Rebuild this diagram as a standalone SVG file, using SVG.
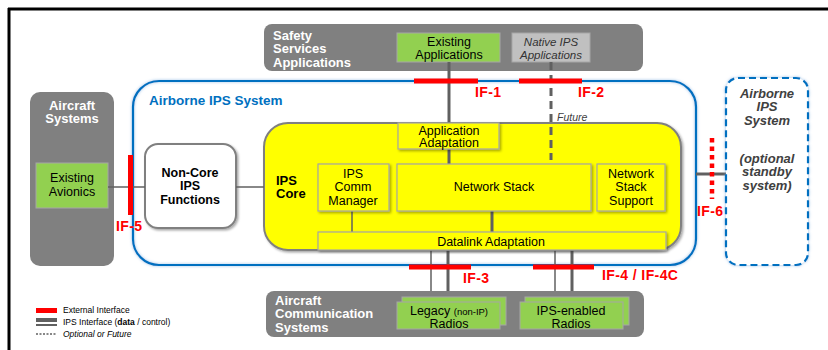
<svg xmlns="http://www.w3.org/2000/svg" width="828" height="350" viewBox="0 0 828 350">
<defs>
<filter id="sh" x="-10%" y="-10%" width="130%" height="130%">
<feDropShadow dx="1.5" dy="1.5" stdDeviation="1" flood-color="#000" flood-opacity="0.35"/>
</filter>
<filter id="glow" x="-5%" y="-5%" width="110%" height="110%">
<feDropShadow dx="0" dy="0" stdDeviation="1.5" flood-color="#6fa8dc" flood-opacity="0.7"/>
</filter>
</defs>
<style>
text{font-family:"Liberation Sans",Arial,sans-serif;}
.gbox{fill:#808080;}
.wt{fill:#fff;font-weight:bold;font-size:13px;}
.green{fill:#92d050;stroke:#a6a6a6;stroke-width:1;}
.yel{fill:#ffff00;stroke:#a6a6a6;stroke-width:1.2;}
.bk{fill:#000;font-size:12.5px;text-anchor:middle;}
.rl{fill:#ff0000;font-weight:bold;font-size:14px;letter-spacing:0.4px;}
.ln{stroke:#606060;fill:none;}
.ext{stroke:#ff0000;stroke-width:5;}
</style>
<rect width="828" height="350" fill="#fff"/>
<line x1="8" y1="9" x2="828" y2="9" stroke="#000" stroke-width="3"/>
<line x1="9" y1="8" x2="9" y2="350" stroke="#000" stroke-width="3"/>

<g id="safety-services">
<rect class="gbox" x="264" y="24" width="379" height="47" rx="8"/>
<text class="wt" x="273" y="39.5">Safety</text>
<text class="wt" x="273" y="53">Services</text>
<text class="wt" x="273" y="66.5">Applications</text>
</g>
<g id="existing-applications">
<rect class="green" x="397" y="33" width="103" height="29"/>
<text class="bk" x="449" y="46">Existing</text>
<text class="bk" x="449" y="59">Applications</text>
</g>
<g id="native-ips">
<rect x="512" y="33" width="78" height="29" fill="#c0c0c0" stroke="#a6a6a6"/>
<text x="551" y="46" font-size="11.5" font-style="italic" fill="#333" text-anchor="middle">Native IPS</text>
<text x="551" y="59" font-size="11.5" font-style="italic" fill="#333" text-anchor="middle">Applications</text>
</g>

<g id="aircraft-systems">
<rect class="gbox" x="30" y="92" width="84" height="174" rx="10"/>
<text class="wt" x="72" y="109.5" text-anchor="middle">Aircraft</text>
<text class="wt" x="72" y="123" text-anchor="middle">Systems</text>
</g>
<g id="existing-avionics">
<rect class="green" x="36" y="163" width="72" height="45"/>
<text class="bk" x="72" y="182">Existing</text>
<text class="bk" x="72" y="196">Avionics</text>
</g>

<g id="airborne-ips-system">
<rect x="133" y="81" width="563" height="184" rx="26" fill="none" stroke="#0070c0" stroke-width="2.2" filter="url(#glow)"/>
<text x="149" y="105" font-size="13.5" font-weight="bold" fill="#0070c0">Airborne IPS System</text>
</g>

<g id="non-core">
<rect x="145" y="144" width="91" height="84" rx="13" fill="#fff" stroke="#808080" stroke-width="2" filter="url(#sh)"/>
<text class="bk" x="190" y="176.5" font-weight="bold" font-size="13">Non-Core</text>
<text class="bk" x="190" y="190" font-weight="bold" font-size="13">IPS</text>
<text class="bk" x="190" y="203.5" font-weight="bold" font-size="13">Functions</text>
</g>

<g id="ips-core">
<rect x="264" y="123" width="417" height="127" rx="24" fill="#ffff00" stroke="#808080" stroke-width="2" filter="url(#sh)"/>
<text x="276" y="184.5" font-size="13" font-weight="bold">IPS</text>
<text x="276" y="198" font-size="13" font-weight="bold">Core</text>
</g>

<g id="connectors">
<line class="ln" x1="449" y1="62" x2="449" y2="124" stroke-width="3"/>
<line class="ln" x1="551" y1="62" x2="551" y2="160" stroke-width="3" stroke-dasharray="8,5"/>
<line class="ln" x1="449" y1="149" x2="449" y2="164" stroke-width="3"/>
<line class="ln" x1="352" y1="211" x2="352" y2="232" stroke-width="1.5"/>
<line class="ln" x1="492" y1="211" x2="492" y2="232" stroke-width="3"/>
<line class="ln" x1="108" y1="187" x2="145" y2="187" stroke-width="1.5"/>
<line class="ln" x1="236" y1="187" x2="264" y2="187" stroke-width="1.5"/>
<line class="ln" x1="431" y1="250" x2="431" y2="302" stroke-width="1.5"/>
<line class="ln" x1="448" y1="250" x2="448" y2="302" stroke-width="3"/>
<line class="ln" x1="555" y1="250" x2="555" y2="302" stroke-width="1.5"/>
<line class="ln" x1="572" y1="250" x2="572" y2="302" stroke-width="3"/>
<line class="ln" x1="696" y1="174" x2="726" y2="174" stroke-width="3"/>
<line class="ext" x1="414" y1="81" x2="478" y2="81"/>
<line class="ext" x1="519" y1="81" x2="582" y2="81"/>
<line class="ext" x1="409" y1="267" x2="471" y2="267"/>
<line class="ext" x1="533" y1="267" x2="594" y2="267"/>
<line class="ext" x1="130.5" y1="155" x2="130.5" y2="215"/>
<line x1="712" y1="138" x2="712" y2="199" stroke="#ff0000" stroke-width="4.5" stroke-dasharray="4.5,4"/>
<text class="rl" x="475" y="97">IF-1</text>
<text class="rl" x="578" y="97">IF-2</text>
<text class="rl" x="463" y="283">IF-3</text>
<text class="rl" x="602" y="280">IF-4 / IF-4C</text>
<text class="rl" x="116" y="231">IF-5</text>
<text class="rl" x="697" y="216">IF-6</text>
<text x="557" y="121" font-size="10.5" font-style="italic" fill="#404040">Future</text>
</g>

<g id="application-adaptation">
<rect class="yel" x="398" y="123" width="101" height="26" filter="url(#sh)"/>
<text class="bk" x="449" y="134.5" font-size="12">Application</text>
<text class="bk" x="449" y="147" font-size="12">Adaptation</text>
</g>
<g id="ips-comm-manager">
<rect class="yel" x="318" y="164" width="71" height="47" filter="url(#sh)"/>
<text class="bk" x="353" y="177.5">IPS</text>
<text class="bk" x="353" y="191">Comm</text>
<text class="bk" x="353" y="204.5">Manager</text>
</g>
<g id="network-stack">
<rect class="yel" x="397" y="164" width="194" height="47" filter="url(#sh)"/>
<text class="bk" x="494" y="191" font-size="13.5">Network Stack</text>
</g>
<g id="network-stack-support">
<rect class="yel" x="597" y="164" width="68" height="47" filter="url(#sh)"/>
<text class="bk" x="631" y="177.5">Network</text>
<text class="bk" x="631" y="191">Stack</text>
<text class="bk" x="631" y="204.5">Support</text>
</g>
<g id="datalink-adaptation">
<rect class="yel" x="318" y="232" width="348" height="18" filter="url(#sh)"/>
<text class="bk" x="491" y="245.5" font-size="13.5">Datalink Adaptation</text>
</g>

<g id="aircraft-communication-systems">
<rect class="gbox" x="266" y="291" width="378" height="46" rx="8"/>
<text class="wt" x="275" y="304.5">Aircraft</text>
<text class="wt" x="275" y="318">Communication</text>
<text class="wt" x="275" y="331.5">Systems</text>
</g>
<g id="legacy-radios">
<rect class="green" x="402" y="297" width="104" height="28"/>
<rect class="green" x="397" y="302" width="103" height="27"/>
<text class="bk" x="449" y="314.5">Legacy <tspan font-size="9.5">(non-IP)</tspan></text>
<text class="bk" x="449" y="327.5">Radios</text>
</g>
<g id="ips-enabled-radios">
<rect class="green" x="525" y="297" width="104" height="28"/>
<rect class="green" x="520" y="302" width="103" height="27"/>
<text class="bk" x="571" y="314.5">IPS-enabled</text>
<text class="bk" x="571" y="327.5">Radios</text>
</g>

<g id="standby-system">
<rect x="726" y="78" width="82" height="187" rx="12" fill="#fff" stroke="#0070c0" stroke-width="2.2" stroke-dasharray="7,4" filter="url(#glow)"/>
<g font-size="13" font-weight="bold" font-style="italic" fill="#404040" text-anchor="middle">
<text x="767" y="97.5">Airborne</text>
<text x="767" y="111">IPS</text>
<text x="767" y="124.5">System</text>
<text x="767" y="162.5">(optional</text>
<text x="767" y="176">standby</text>
<text x="767" y="189.5">system)</text>
</g>
</g>

<g id="legend">
<rect x="36" y="308" width="21" height="5" fill="#ff0000"/>
<rect x="36" y="318" width="21" height="4" fill="#606060"/>
<rect x="36" y="324" width="21" height="2" fill="#606060"/>
<line x1="36" y1="334" x2="57" y2="334" stroke="#606060" stroke-width="1.5" stroke-dasharray="2,1.5"/>
<text x="63" y="313" font-size="8.5" fill="#000">External Interface</text>
<text x="63" y="325" font-size="8.5" fill="#000">IPS Interface (<tspan font-weight="bold">data</tspan> / control)</text>
<text x="63" y="337" font-size="8.5" font-style="italic" fill="#000">Optional or Future</text>
</g>
</svg>
